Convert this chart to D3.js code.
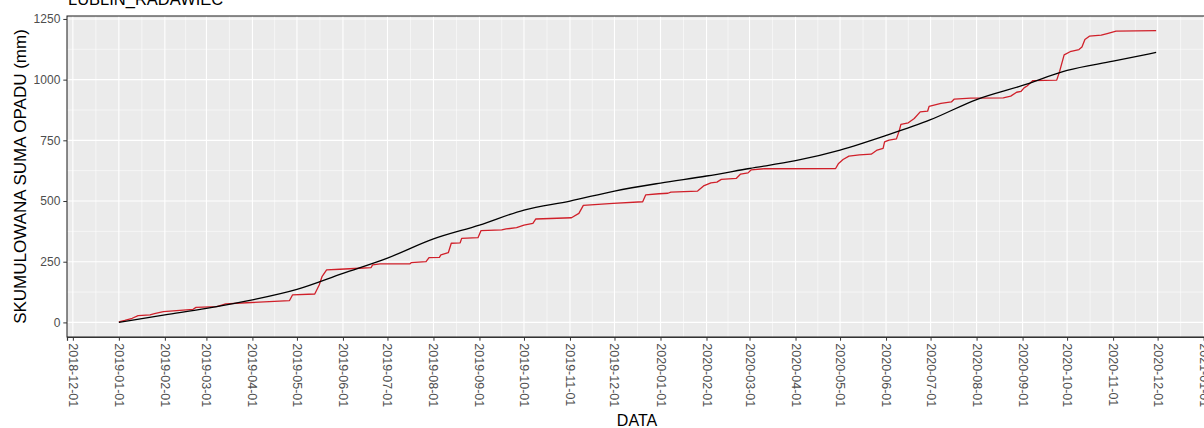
<!DOCTYPE html>
<html>
<head>
<meta charset="utf-8">
<script src="https://cdn.jsdelivr.net/npm/d3@7"></script>
<style>
  html, body { margin: 0; padding: 0; background: #ffffff; }
  svg { display: block; font-family: "Liberation Sans", Arial, sans-serif; }
</style>
</head>
<body>
<svg id="chart" width="1204" height="428"></svg>
<script>
// Station name
const stationName = "LUBLIN_RADAWIEC";

// Measured cumulative precipitation (mm), red series
const measuredDates = [
  "2019-01-01","2019-01-05","2019-01-10","2019-01-14","2019-01-22","2019-01-25","2019-01-31",
  "2019-02-20","2019-02-22","2019-03-08","2019-03-14","2019-03-28","2019-04-26","2019-04-28",
  "2019-05-13","2019-05-16","2019-05-18","2019-05-21","2019-05-30","2019-06-12","2019-06-20",
  "2019-06-21","2019-06-26","2019-07-16","2019-07-17","2019-07-27","2019-07-29","2019-08-05",
  "2019-08-06","2019-08-11","2019-08-13","2019-08-19","2019-08-20","2019-08-31","2019-09-02",
  "2019-09-16","2019-09-19","2019-09-26","2019-10-01","2019-10-07","2019-10-09","2019-11-02",
  "2019-11-07","2019-11-10","2019-11-30","2019-12-20","2019-12-22","2019-12-31","2020-01-06",
  "2020-01-08","2020-01-26","2020-01-30","2020-02-04","2020-02-08","2020-02-11","2020-02-21",
  "2020-02-24","2020-02-29","2020-03-02","2020-03-11","2020-04-28","2020-04-30","2020-05-03",
  "2020-05-07","2020-05-14","2020-05-22","2020-05-26","2020-05-30","2020-05-31","2020-06-03",
  "2020-06-08","2020-06-10","2020-06-11","2020-06-16","2020-06-20","2020-06-24","2020-06-29",
  "2020-06-30","2020-07-08","2020-07-15","2020-07-17","2020-07-28","2020-08-19","2020-08-24",
  "2020-08-28","2020-08-31","2020-09-02","2020-09-04","2020-09-08","2020-09-24","2020-09-26",
  "2020-09-29","2020-10-03","2020-10-09","2020-10-11","2020-10-13","2020-10-16","2020-10-24",
  "2020-10-28","2020-11-03","2020-11-30"
];
const measuredValues = [
  2, 8, 17, 28, 31, 36, 44,
  54, 62, 65, 76, 81, 90, 113,
  117, 154, 190, 216, 219, 223, 226,
  237, 241, 241, 246, 250, 267, 268,
  278, 287, 326, 328, 346, 349, 378,
  381, 385, 390, 401, 408, 426, 431,
  449, 482, 490, 497, 525, 530, 532,
  537, 541, 562, 575, 578, 589, 593,
  611, 616, 628, 633, 634, 655, 671,
  685, 690, 693, 710, 717, 744, 751,
  756, 792, 816, 822, 840, 867, 870,
  890, 902, 908, 920, 924, 925, 932,
  948, 952, 966, 974, 996, 998, 1035,
  1102, 1115, 1124, 1134, 1165, 1179, 1183,
  1190, 1200, 1202
];

// Reference (normal) cumulative precipitation (mm), black series
const normalDates = [
  "2019-01-01","2019-02-01","2019-03-01","2019-04-01","2019-05-01","2019-06-01",
  "2019-07-01","2019-08-01","2019-09-01","2019-10-01","2019-11-01","2019-12-01",
  "2020-01-01","2020-02-01","2020-03-01","2020-04-01","2020-05-01","2020-06-01",
  "2020-07-01","2020-08-01","2020-09-01","2020-10-01","2020-11-01","2020-11-30"
];
const normalValues = [
  0, 31, 58, 93, 136, 202,
  265, 344, 401, 463, 500, 541,
  574, 603, 634, 666, 710, 770,
  835, 918, 976, 1038, 1076, 1112
];

// Axis ticks
const yMajorTicks = [0, 250, 500, 750, 1000, 1250];
const yMinorTicks = [125, 375, 625, 875, 1125];

const parse = d3.utcParse("%Y-%m-%d");
const measured = measuredDates.map((d, i) => ({ date: parse(d), value: measuredValues[i] }));
const normal = normalDates.map((d, i) => ({ date: parse(d), value: normalValues[i] }));

// Panel geometry
const panel = { left: 67, top: 16, width: 1141, height: 321 };
const svg = d3.select("#chart");

// Scales with 5% padding around the data range
const allDates = measured.map(d => d.date).concat(normal.map(d => d.date));
const dMin = d3.min(allDates), dMax = d3.max(allDates);
const dPad = (dMax - dMin) * 0.05;
const x = d3.scaleUtc()
  .domain([new Date(+dMin - dPad), new Date(+dMax + dPad)])
  .range([panel.left, panel.left + panel.width]);

const vMax = d3.max(measuredValues.concat(normalValues));
const vMin = 0;
const vPad = (vMax - vMin) * 0.05;
const y = d3.scaleLinear()
  .domain([vMin - vPad, vMax + vPad])
  .range([panel.top + panel.height, panel.top]);

// Background
svg.append("rect")
  .attr("x", panel.left).attr("y", panel.top)
  .attr("width", panel.width).attr("height", panel.height)
  .attr("fill", "#EBEBEB");

// Month breaks and mid-month minor breaks
const xMajorTicks = d3.utcMonth.range(d3.utcMonth.ceil(x.domain()[0]), x.domain()[1]);
const xMinorTicks = [];
for (let i = 0; i < xMajorTicks.length - 1; i++) {
  xMinorTicks.push(new Date((+xMajorTicks[i] + +xMajorTicks[i + 1]) / 2));
}
xMinorTicks.unshift(new Date(+xMajorTicks[0] - (xMajorTicks[1] - xMajorTicks[0]) / 2));
xMinorTicks.push(new Date(+xMajorTicks[xMajorTicks.length - 1] + 15.5 * 864e5));

const grid = svg.append("g");
const x0 = panel.left, x1 = panel.left + panel.width;
const y0 = panel.top, y1 = panel.top + panel.height;

grid.selectAll(".yminor").data(yMinorTicks).join("line")
  .attr("x1", x0).attr("x2", x1)
  .attr("y1", d => y(d)).attr("y2", d => y(d))
  .attr("stroke", "#ffffff").attr("stroke-width", 0.55);
grid.selectAll(".xminor").data(xMinorTicks.filter(d => d > x.domain()[0] && d < x.domain()[1])).join("line")
  .attr("y1", y0).attr("y2", y1)
  .attr("x1", d => x(d)).attr("x2", d => x(d))
  .attr("stroke", "#ffffff").attr("stroke-width", 0.55);
grid.selectAll(".ymajor").data(yMajorTicks).join("line")
  .attr("x1", x0).attr("x2", x1)
  .attr("y1", d => y(d)).attr("y2", d => y(d))
  .attr("stroke", "#ffffff").attr("stroke-width", 1.1);
grid.selectAll(".xmajor").data(xMajorTicks).join("line")
  .attr("y1", y0).attr("y2", y1)
  .attr("x1", d => x(d)).attr("x2", d => x(d))
  .attr("stroke", "#ffffff").attr("stroke-width", 1.1);

// Series
const line = d3.line().x(d => x(d.date)).y(d => y(d.value));
svg.append("path")
  .datum(measured)
  .attr("d", line)
  .attr("fill", "none")
  .attr("stroke", "#d0202a")
  .attr("stroke-width", 1.3)
  .attr("stroke-linejoin", "round");
svg.append("path")
  .datum(normal)
  .attr("d", line.curve(d3.curveMonotoneX))
  .attr("fill", "none")
  .attr("stroke", "#000000")
  .attr("stroke-width", 1.3);

// Panel border
svg.append("rect")
  .attr("x", panel.left).attr("y", panel.top)
  .attr("width", panel.width).attr("height", panel.height)
  .attr("fill", "none").attr("stroke", "#1a1a1a").attr("stroke-width", 1);

// Y axis
const yAxis = svg.append("g")
  .attr("transform", `translate(${panel.left},0)`)
  .call(d3.axisLeft(y).tickValues(yMajorTicks).tickSize(3.7).tickPadding(3).tickFormat(d3.format("d")));
yAxis.select(".domain").remove();
yAxis.selectAll(".tick line").attr("stroke", "#333333").attr("stroke-width", 1);
yAxis.selectAll(".tick text")
  .attr("fill", "#4D4D4D")
  .style("font-size", "12px")
  .style("font-family", "'Liberation Sans', Arial, sans-serif");

// X axis
const xAxis = svg.append("g")
  .attr("transform", `translate(0,${y1})`)
  .call(d3.axisBottom(x).tickValues(xMajorTicks).tickSize(3.7).tickFormat(d3.utcFormat("%Y-%m-%d")));
xAxis.select(".domain").attr("stroke", "#333333").attr("stroke-width", 1.2);
xAxis.selectAll(".tick line").attr("stroke", "#333333").attr("stroke-width", 1);
xAxis.selectAll(".tick text")
  .attr("fill", "#4D4D4D")
  .style("font-size", "12.5px")
  .style("font-family", "'Liberation Sans', Arial, sans-serif")
  .attr("text-anchor", "start")
  .attr("x", 0).attr("y", 0).attr("dy", "0.36em")
  .attr("transform", "translate(0,6.3) rotate(90)");

// Titles
svg.append("text")
  .attr("x", panel.left + 1).attr("y", 4.5)
  .style("font-size", "16.5px")
  .attr("fill", "#000")
  .text(stationName);

svg.append("text")
  .attr("transform", `translate(26,${(y0 + y1) / 2}) rotate(-90)`)
  .attr("text-anchor", "middle")
  .style("font-size", "17px")
  .attr("fill", "#000")
  .text("SKUMULOWANA SUMA OPADU (mm)");

svg.append("text")
  .attr("x", 637).attr("y", 425.5)
  .attr("text-anchor", "middle")
  .style("font-size", "16px")
  .attr("fill", "#000")
  .text("DATA");
</script>
</body>
</html>
